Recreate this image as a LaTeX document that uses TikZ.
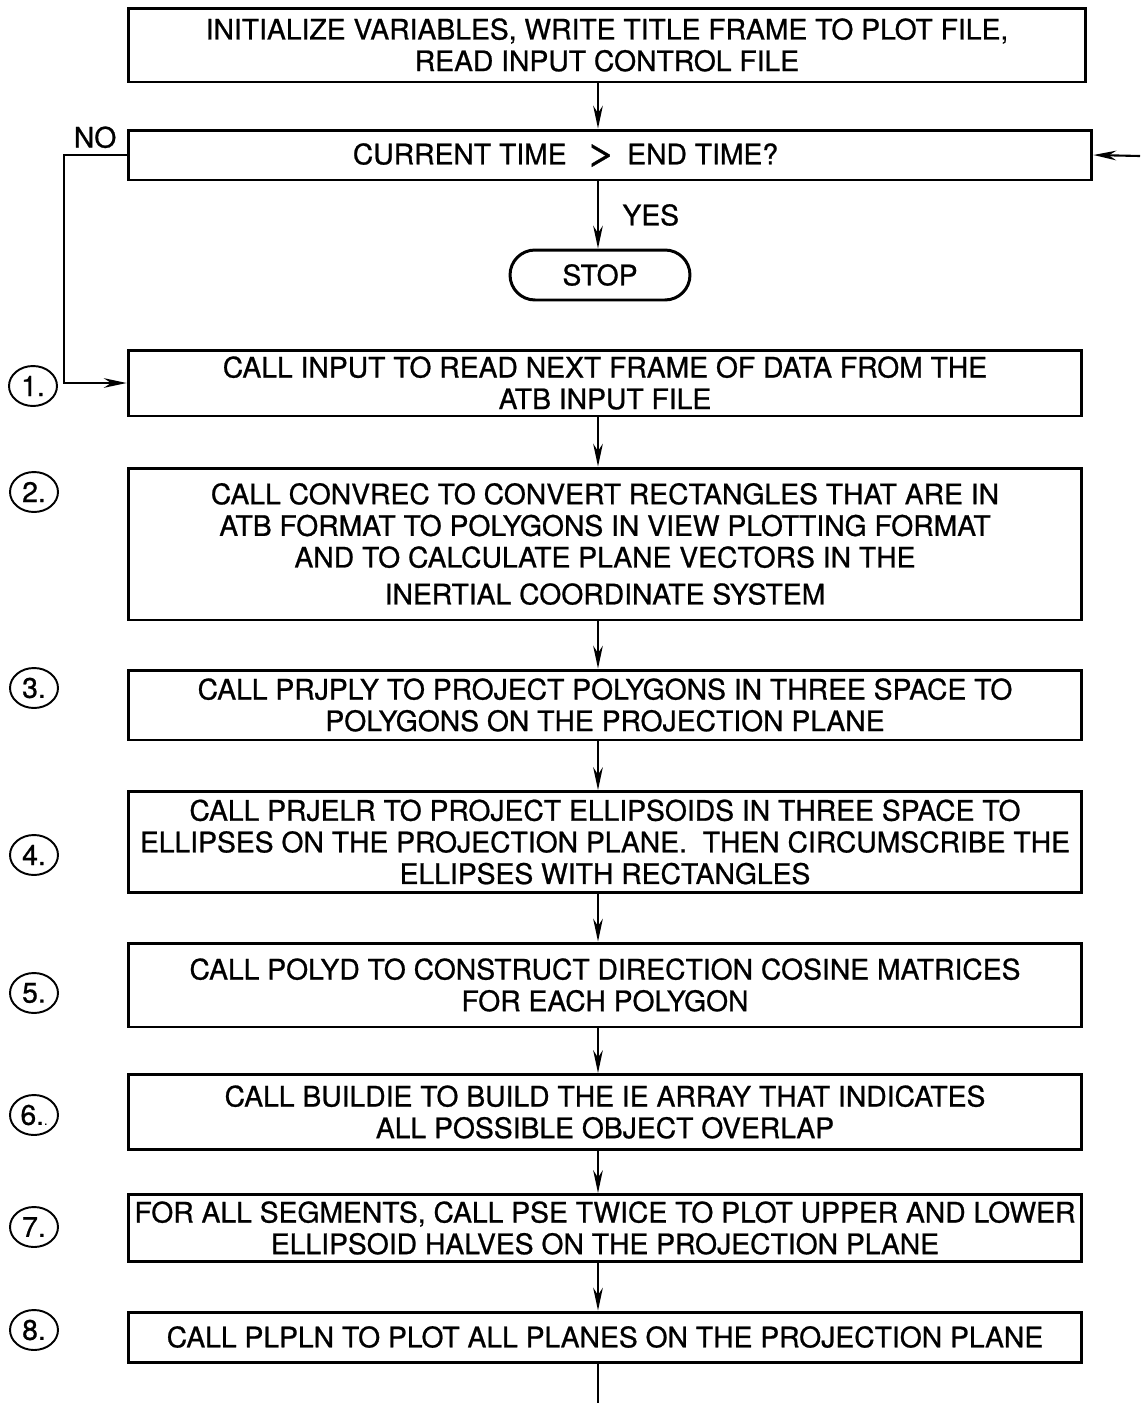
\documentclass[tikz,border=0pt]{standalone}
\usepackage{fontspec}
\setmainfont{TeX Gyre Heros}[FakeBold=0.8]
\usetikzlibrary{positioning, arrows.meta, shapes.geometric}

\begin{document}
\begin{tikzpicture}[x=0.02cm, y=-0.02cm, >={Stealth[length=13pt, width=5.5pt]},
    font=\fontsize{16.1}{18}\selectfont,
    stepbox/.style={draw, line width=1.7pt, align=center, minimum width=19.08cm, inner sep=2pt},
    stopbox/.style={draw, line width=1.7pt, rounded corners=0.5cm, minimum width=3.6cm, minimum height=1cm},
    num/.style={draw, ellipse, line width=1.1pt, minimum width=0.96cm, minimum height=0.8cm, inner sep=0pt},
    flow/.style={->, line width=1.2pt}]
    \useasboundingbox (0,0) rectangle (1140,1403);

    \node[stepbox, minimum width=19.16cm, minimum height=1.48cm] (init) at (607,45)
        {INITIALIZE VARIABLES, WRITE TITLE FRAME TO PLOT FILE,\\ READ INPUT CONTROL FILE};
    \node[stepbox, minimum width=19.28cm, minimum height=1cm] (test) at (610,155)
        {CURRENT TIME\hspace{11pt}{\fontsize{20}{18}\selectfont\scalebox{1.5}[1]{>}}\hspace{6pt}END TIME?\hspace*{1.78cm}};
    \node[stopbox] (stop) at (600,275) {STOP};

    \node[stepbox, minimum height=1.32cm] (input) at (605,383)
        {CALL INPUT TO READ NEXT FRAME OF DATA FROM THE\\ ATB INPUT FILE};
    \node[stepbox, minimum height=3.04cm] (convrec) at (605,544)
        {CALL CONVREC TO CONVERT RECTANGLES THAT ARE IN\\ ATB FORMAT TO POLYGONS IN VIEW PLOTTING FORMAT\\ AND TO CALCULATE PLANE VECTORS IN THE\\[3pt] INERTIAL COORDINATE SYSTEM};
    \node[stepbox, minimum height=1.4cm] (prjply) at (605,705)
        {CALL PRJPLY TO PROJECT POLYGONS IN THREE SPACE TO\\ POLYGONS ON THE PROJECTION PLANE};
    \node[stepbox, minimum height=2.02cm] (prjelr) at (605,842)
        {CALL PRJELR TO PROJECT ELLIPSOIDS IN THREE SPACE TO\\ ELLIPSES ON THE PROJECTION PLANE.~~THEN CIRCUMSCRIBE THE\\ ELLIPSES WITH RECTANGLES};
    \node[stepbox, minimum height=1.68cm] (polyd) at (605,985)
        {CALL POLYD TO CONSTRUCT DIRECTION COSINE MATRICES\\ FOR EACH POLYGON};
    \node[stepbox, minimum height=1.5cm] (buildie) at (605,1112)
        {CALL BUILDIE TO BUILD THE IE ARRAY THAT INDICATES\\ ALL POSSIBLE OBJECT OVERLAP};
    \node[stepbox, minimum height=1.34cm] (pse) at (605,1228)
        {FOR ALL SEGMENTS, CALL PSE TWICE TO PLOT UPPER AND LOWER\\ ELLIPSOID HALVES ON THE PROJECTION PLANE};
    \node[stepbox, minimum height=1cm] (plpln) at (605,1337)
        {CALL PLPLN TO PLOT ALL PLANES ON THE PROJECTION PLANE};

    % step numbers
    \node[num] (n1) at (33,386) {1.};
    \node[num] (n2) at (34,492) {2.};
    \node[num] (n3) at (34,688) {3.};
    \node[num] (n4) at (34,855) {4.};
    \node[num] (n5) at (34,993) {5.};
    \node[num] (n6) at (34,1115) {6.{\scriptsize.}};
    \node[num] (n7) at (34,1227) {7.};
    \node[num] (n8) at (34,1330) {8.};

    \coordinate (spine) at (598,0);
    \coordinate (back) at (1140,156);
    \coordinate (exit) at (598,1403);

    \draw[flow] (init.south -| spine) -- (test.north -| spine);
    \draw[flow] (test.south -| spine) -- node[right=10pt]{YES} (stop.north -| spine);
    \draw[flow] (test.west) -- node[above]{NO} ++(-63,0) |- (input.west);
    \draw[flow] (back) -- (test.east);
    \foreach \a/\b in {input/convrec, convrec/prjply, prjply/prjelr, prjelr/polyd,
                       polyd/buildie, buildie/pse, pse/plpln}
        \draw[flow] (\a.south -| spine) -- (\b.north -| spine);
    \draw[line width=1.2pt] (plpln.south -| spine) -- (exit);
\end{tikzpicture}
\end{document}
